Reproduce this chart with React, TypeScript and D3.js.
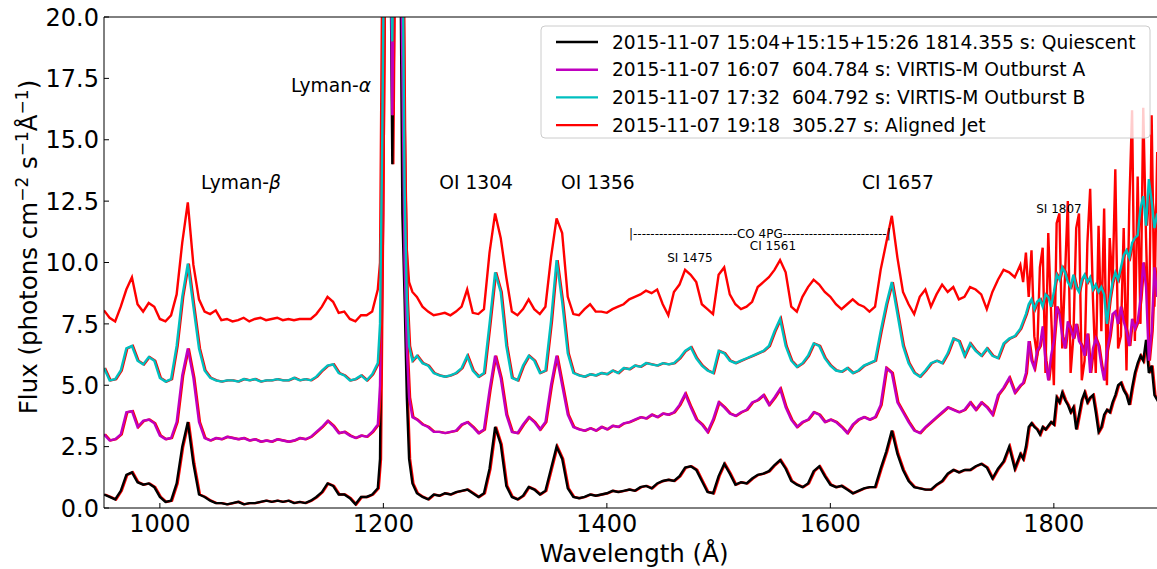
import React from 'react';
import * as d3 from 'd3';

const wavelengths: number[] = [
  950, 955, 960, 965, 970, 975, 980, 985, 990, 995,
  1000, 1005, 1010, 1015, 1020, 1025, 1030, 1035, 1040, 1045,
  1050, 1055, 1060, 1065, 1070, 1075, 1080, 1085, 1090, 1095,
  1100, 1105, 1110, 1115, 1120, 1125, 1130, 1135, 1140, 1145,
  1150, 1155, 1160, 1165, 1170, 1175, 1180, 1185, 1190, 1195,
  1197, 1199, 1202, 1205, 1208, 1211, 1214, 1217, 1219, 1221, 1223, 1226,
  1230, 1235, 1240, 1245, 1250, 1255, 1260, 1265, 1270, 1275,
  1280, 1285, 1290, 1295, 1300, 1305, 1310, 1315, 1320, 1325,
  1330, 1335, 1340, 1345, 1350, 1355, 1360, 1365, 1370, 1375,
  1380, 1385, 1390, 1395, 1400, 1405, 1410, 1415, 1420, 1425,
  1430, 1435, 1440, 1445, 1450, 1455, 1460, 1465, 1470, 1475,
  1480, 1485, 1490, 1495, 1500, 1505, 1510, 1515, 1520, 1525,
  1530, 1535, 1540, 1545, 1550, 1555, 1560, 1565, 1570, 1575,
  1580, 1585, 1590, 1595, 1600, 1605, 1610, 1615, 1620, 1625,
  1630, 1635, 1640, 1645, 1650, 1655, 1660, 1665, 1670, 1675,
  1680, 1685, 1690, 1695, 1700, 1705, 1710, 1715, 1720, 1725,
  1730, 1735, 1740, 1745, 1750, 1755, 1760, 1765, 1770,
  1772.5, 1775, 1777.5, 1780, 1782.5, 1785, 1787.5, 1790, 1792.5, 1795,
  1797.5, 1800, 1802.5, 1805, 1807.5, 1810, 1812.5, 1815, 1817.5, 1820,
  1822.5, 1825, 1827.5, 1830, 1832.5, 1835, 1837.5, 1840, 1842.5, 1845,
  1847.5, 1850, 1852.5, 1855, 1857.5, 1860, 1862.5, 1865, 1867.5, 1870,
  1872.5, 1875, 1877.5, 1880, 1882.5, 1885, 1887.5, 1890, 1892.5, 1895,
  1897.5, 1900,
];

const quiescent: number[] = [
  0.55, 0.45, 0.35, 0.7, 1.35, 1.45, 1.05, 0.95, 1.0, 0.85,
  0.45, 0.25, 0.3, 1.0, 2.5, 3.5, 1.8, 0.55, 0.45, 0.3,
  0.2, 0.2, 0.15, 0.2, 0.25, 0.15, 0.2, 0.2, 0.25, 0.3,
  0.25, 0.3, 0.25, 0.3, 0.2, 0.25, 0.2, 0.3, 0.45, 0.65,
  1.0, 0.9, 0.55, 0.55, 0.4, 0.15, 0.45, 0.45, 0.55, 0.8,
  2.0, 12, 30, 30, 14, 30, 30, 12, 8.5, 4.5, 2.0, 1.0,
  0.6, 0.45, 0.35, 0.55, 0.5, 0.6, 0.55, 0.65, 0.7, 0.75,
  0.6, 0.45, 0.6, 1.6, 3.3, 2.6, 0.9, 0.45, 0.35, 0.5,
  0.85, 0.75, 0.55, 0.7, 1.6, 2.5, 2.0, 0.8, 0.45, 0.4,
  0.45, 0.55, 0.5, 0.55, 0.6, 0.7, 0.65, 0.7, 0.75, 0.7,
  0.85, 0.9, 0.8, 1.0, 1.1, 1.15, 1.1, 1.3, 1.65, 1.7,
  1.55, 1.1, 0.65, 0.6, 1.3, 1.8, 1.4, 0.95, 1.05, 1.0,
  1.2, 1.35, 1.4, 1.5, 1.75, 1.95, 1.6, 1.1, 0.95, 0.85,
  1.0, 1.5, 1.7, 1.3, 0.95, 0.85, 0.9, 0.75, 0.6, 0.7,
  0.8, 0.85, 0.85, 1.6, 2.3, 3.15, 2.2, 1.55, 1.1, 0.85,
  0.8, 0.75, 0.75, 0.95, 1.1, 1.4, 1.55, 1.45, 1.55, 1.55,
  1.7, 1.8, 1.65, 1.2, 1.6, 1.9, 2.5, 1.6, 2.2,
  2.0, 2.5, 3.3, 3.45, 3.3, 3.2, 3.0, 3.3, 3.2, 3.35,
  3.5, 3.4, 4.5, 4.3, 4.7, 4.4, 4.2, 3.9, 4.1, 3.2,
  3.8, 4.4, 4.7, 4.3, 4.5, 4.6, 3.9, 3.1, 3.3, 3.8,
  4.0, 3.9, 4.3, 4.6, 5.0, 5.1, 4.8, 4.6, 4.2, 4.9,
  5.5, 5.9, 6.2, 6.0, 6.85, 5.5, 5.8, 4.6, 4.4, 4.8,
  4.6, 4.5,
];

const outburstA: number[] = [
  3.0, 2.75, 2.8, 3.0, 3.9, 3.95, 3.3, 3.55, 3.6, 3.45,
  2.95, 2.8, 2.85, 3.5, 5.4, 6.5, 5.3, 3.5, 2.85, 2.75,
  2.85, 2.8, 2.9, 2.85, 2.8, 2.85, 2.75, 2.8, 2.7, 2.75,
  2.7, 2.8, 2.75, 2.7, 2.75, 2.85, 2.8, 2.9, 3.1, 3.3,
  3.55, 3.35, 3.05, 3.1, 2.95, 2.85, 2.95, 2.9, 3.1, 3.4,
  5.0, 12, 30, 30, 16, 30, 30, 18, 10, 6.5, 4.5, 3.7,
  3.6, 3.4, 3.3, 3.1, 3.1, 3.05, 3.1, 3.15, 3.4, 3.5,
  3.3, 3.05, 3.2, 4.8, 6.2, 5.3, 3.8, 3.1, 3.05, 3.4,
  3.7, 3.5, 3.2, 3.5, 5.0, 6.2, 5.0, 3.8, 3.3, 3.2,
  3.15, 3.25, 3.15, 3.3, 3.2, 3.35, 3.3, 3.45, 3.5, 3.6,
  3.7, 3.65, 3.8, 3.7, 3.85, 3.8, 3.9, 4.2, 4.65, 4.1,
  3.6, 3.4, 3.1, 3.6, 4.3, 4.1, 3.85, 3.75, 3.9, 4.0,
  4.3, 4.4, 4.6, 4.2, 4.5, 4.85, 4.1, 3.6, 3.3, 3.5,
  3.6, 3.9, 3.8, 3.5, 3.6, 3.5, 3.3, 3.05, 3.4, 3.6,
  3.7, 3.6, 3.7, 4.2, 5.7, 5.5, 4.3, 3.9, 3.5, 3.15,
  3.05, 3.3, 3.5, 3.7, 3.9, 4.1, 4.0, 3.9, 4.0, 4.3,
  4.0, 4.3, 4.1, 3.8, 4.6, 4.9, 5.3, 4.7, 5.0,
  5.1, 5.5, 6.8, 6.0, 5.7, 6.4, 6.6, 7.4, 6.0, 5.2,
  6.2, 6.8, 8.2, 7.9, 7.0, 6.5, 7.6, 7.3, 6.9, 7.5,
  6.8, 6.6, 6.2, 7.1, 5.5, 6.5, 6.9, 6.6, 5.8, 5.2,
  6.4, 7.0, 7.9, 8.0, 7.5, 8.2, 7.6, 7.2, 6.6, 7.7,
  7.3, 7.6, 8.5, 10.0, 9.0, 6.0, 7.2, 9.8, 8.6, 9.2,
  8.8, 9.0,
];

const outburstB: number[] = [
  5.7, 5.2, 5.25, 5.6, 6.5, 6.6, 6.0, 5.85, 6.15, 6.0,
  5.3, 5.15, 5.25, 6.6, 8.6, 9.95, 8.2, 6.5, 5.6, 5.3,
  5.2, 5.15, 5.2, 5.2, 5.15, 5.25, 5.2, 5.25, 5.15, 5.2,
  5.2, 5.25, 5.2, 5.2, 5.3, 5.2, 5.25, 5.2, 5.35, 5.6,
  5.8, 5.85, 5.5, 5.4, 5.2, 5.25, 5.4, 5.2, 5.45, 5.9,
  7.5, 15, 30, 30, 19, 30, 30, 24, 13, 8.5, 6.6, 6.0,
  6.2, 5.9, 5.8, 5.5, 5.4, 5.35, 5.4, 5.5, 5.7, 6.2,
  5.6, 5.35, 5.5, 7.5, 9.6, 8.8, 6.6, 5.3, 5.2, 5.8,
  6.2, 6.0, 5.5, 5.6, 7.6, 10.1, 8.4, 6.3, 5.5, 5.4,
  5.35, 5.45, 5.4, 5.5, 5.45, 5.6, 5.5, 5.7, 5.65, 5.8,
  5.75, 5.9, 5.85, 5.8, 5.9, 5.85, 5.9, 6.1, 6.4, 6.55,
  6.1, 5.8, 5.6, 5.5, 6.4, 6.3, 6.0, 5.9, 6.0, 6.1,
  6.2, 6.3, 6.4, 6.6, 7.2, 7.7, 6.6, 6.0, 5.75, 5.9,
  6.2, 6.7, 6.6, 6.1, 5.8, 5.6, 5.55, 5.7, 5.5, 5.6,
  5.8, 5.9, 6.0, 7.2, 8.3, 9.2, 7.9, 6.6, 5.9, 5.5,
  5.35, 5.6, 5.9, 6.0, 5.9, 6.3, 6.9, 6.8, 6.2, 6.7,
  6.4, 6.2, 6.5, 6.2, 6.1, 6.7, 6.9, 7.0, 7.3,
  7.6, 7.9, 8.3, 8.5, 8.1, 8.4, 8.5, 8.2, 8.7, 8.6,
  8.2, 8.8, 9.5, 9.3, 9.8, 9.6, 9.2, 9.0, 9.5, 9.0,
  8.8, 9.3, 9.5, 9.2, 9.4, 8.9, 9.1, 8.8, 9.0, 8.7,
  7.5, 8.5, 9.2, 9.6, 9.3, 9.8, 10.3, 10.5, 10.2, 10.8,
  11.0, 11.1, 12.2, 12.7, 11.5, 13.4, 12.5, 11.4, 12.0, 11.5,
  11.8, 11.6,
];

const alignedJet: number[] = [
  8.05, 7.75, 7.6, 8.2, 8.9, 9.4, 8.3, 8.0, 8.35, 8.2,
  7.7, 7.6, 7.85, 8.7, 10.8, 12.45, 9.9, 8.5, 8.0, 7.9,
  8.05, 7.65, 7.7, 7.6, 7.65, 7.75, 7.6, 7.7, 7.75, 7.65,
  7.7, 7.75, 7.65, 7.7, 7.65, 7.7, 7.7, 7.7, 7.9, 8.2,
  8.6, 8.4, 7.95, 8.0, 7.7, 7.6, 7.85, 7.85, 8.0, 8.9,
  10, 22, 30, 30, 24, 30, 30, 30, 16, 10.5, 9.2, 8.8,
  8.6, 8.2, 8.0, 7.85, 7.9, 7.95, 7.85, 8.0, 8.2, 8.9,
  7.95, 7.9, 8.1, 10.4, 12.0, 11.0, 9.4, 8.0, 7.85, 8.1,
  8.5, 8.1, 7.9, 8.2, 10.2, 11.8, 11.2, 8.6, 7.9, 7.85,
  8.1, 8.3, 8.0, 8.0, 7.95, 8.1, 8.2, 8.3, 8.5, 8.6,
  8.7, 8.85, 8.75, 8.9, 8.3, 7.85, 8.8, 9.1, 9.7, 9.5,
  9.2, 8.3, 8.1, 7.9, 9.5, 9.8, 8.7, 8.3, 8.1, 8.2,
  8.4, 9.0, 9.2, 9.4, 9.7, 10.1, 9.6, 8.2, 8.0, 8.6,
  9.0, 9.3, 9.1, 8.8, 8.6, 8.3, 8.1, 8.3, 8.5, 8.3,
  8.2, 8.0, 8.2, 9.7, 10.8, 11.9, 10.2, 8.8, 8.3, 7.9,
  8.6, 8.9, 8.2, 8.7, 9.1, 8.8, 9.0, 8.5, 8.6, 9.0,
  8.9, 8.7, 8.1, 8.8, 9.3, 9.7, 9.6, 9.4, 9.9,
  9.2, 10.4, 8.6, 10.5, 7.0, 6.2, 9.8, 10.6, 5.5, 11.2,
  8.0, 5.0, 11.6, 12.0, 6.5, 9.5, 12.5, 5.5, 7.0, 11.4,
  12.0, 5.2, 6.0, 10.8, 13.0, 8.5, 5.5, 11.5, 7.2, 12.2,
  5.0, 11.0, 9.0, 13.8, 6.5, 7.0, 11.4, 5.6, 12.3, 16.2,
  6.8, 13.5, 7.5, 16.3, 11.0, 6.5, 16.0, 8.2, 14.5, 9.0,
  13.2, 10.0,
];

const xTicks = [1000, 1200, 1400, 1600, 1800];
const yTicks = [0, 2.5, 5, 7.5, 10, 12.5, 15, 17.5, 20];

const seriesLabels = [
  '2015-11-07 15:04+15:15+15:26 1814.355 s: Quiescent',
  '2015-11-07 16:07  604.784 s: VIRTIS-M Outburst A',
  '2015-11-07 17:32  604.792 s: VIRTIS-M Outburst B',
  '2015-11-07 19:18  305.27 s: Aligned Jet',
];
const seriesColors = ['#000000', '#bf00bf', '#00bfbf', '#ff0000'];

// label anchor wavelengths (where each text is centred)
const bigLabelText = ['OI 1304', 'OI 1356', 'CI 1657'];
const bigLabelAt = [1283, 1392, 1660.5];

const FONT = 'DejaVu Sans, sans-serif';

export default function App() {
  const W = 1157;
  const H = 569;
  const left = 104;
  const top = 17;
  const bottom = 508;
  const right = 1165.6;
  const x = d3.scaleLinear().domain([950, 1900]).range([left, right]);
  const y = d3.scaleLinear().domain([0, 20]).range([bottom, top]);
  const lineGen = d3
    .line<number>()
    .x((_, i) => x(wavelengths[i]))
    .y((d) => y(d));

  const dash = '-'.repeat(24);

  return (
    <svg
      width={W}
      height={H}
      style={{ position: 'absolute', left: 0, top: 0, background: '#fff' }}
      fontFamily={FONT}
    >
      <defs>
        <clipPath id="plotclip">
          <rect x={left} y={top} width={right - left} height={bottom - top} />
        </clipPath>
      </defs>
      <rect x={0} y={0} width={W} height={H} fill="#fff" />
      <g clipPath="url(#plotclip)">
        <path d={lineGen(alignedJet) ?? ''} fill="none" stroke="#ff0000" strokeWidth={2.4} />
        {[quiescent, outburstA, outburstB].map((s, i) => (
          <g key={i}>
            <path d={lineGen(s) ?? ''} fill="none" stroke="#ff0000" strokeWidth={2.4} transform="translate(1,0)" />
            <path d={lineGen(s) ?? ''} fill="none" stroke={seriesColors[i]} strokeWidth={2.4} />
          </g>
        ))}
      </g>

      <line x1={left} x2={left} y1={top} y2={bottom} stroke="#000" strokeWidth={1} />
      <line x1={left} x2={W} y1={bottom} y2={bottom} stroke="#000" strokeWidth={1} />
      <line x1={left} x2={W} y1={top} y2={top} stroke="#000" strokeWidth={1} />

      {xTicks.map((t) => (
        <g key={t}>
          <line x1={x(t)} x2={x(t)} y1={bottom} y2={bottom - 5} stroke="#000" strokeWidth={1} />
          <text x={x(t)} y={532} textAnchor="middle" fontSize={24} fill="#000">
            {t}
          </text>
        </g>
      ))}
      {yTicks.map((t) => (
        <g key={t}>
          <line x1={left} x2={left + 5} y1={y(t)} y2={y(t)} stroke="#000" strokeWidth={1} />
          <text x={99} y={y(t)} dy="0.36em" textAnchor="end" fontSize={24} fill="#000">
            {t.toFixed(1)}
          </text>
        </g>
      ))}

      <text x={634} y={562} textAnchor="middle" fontSize={24.5} fill="#000">
        Wavelength (Å)
      </text>
      <text transform="translate(37,247) rotate(-90)" textAnchor="middle" fontSize={24.5} fill="#000">
        Flux (photons cm
        <tspan dy={-9} fontSize={17}>−2</tspan>
        <tspan dy={9}> s</tspan>
        <tspan dy={-9} fontSize={17}>−1</tspan>
        <tspan dy={9}>Å</tspan>
        <tspan dy={-9} fontSize={17}>−1</tspan>
        <tspan dy={9}>)</tspan>
      </text>

      <text x={331} y={92} textAnchor="middle" fontSize={18.67} fill="#000">
        Lyman-<tspan fontStyle="italic">α</tspan>
      </text>
      <text x={241} y={189} textAnchor="middle" fontSize={18.67} fill="#000">
        Lyman-<tspan fontStyle="italic">β</tspan>
      </text>
      {bigLabelText.map((t, i) => (
        <text key={t} x={x(bigLabelAt[i])} y={189} textAnchor="middle" fontSize={18.67} fill="#000">
          {t}
        </text>
      ))}
      <text x={629} y={238} fontSize={12} fill="#000" style={{ whiteSpace: 'pre' }}>
        {'|' + dash + 'CO 4PG' + dash + '|'}
      </text>
      <text x={690} y={262} textAnchor="middle" fontSize={12} fill="#000">SI 1475</text>
      <text x={773} y={250} textAnchor="middle" fontSize={12} fill="#000">CI 1561</text>
      <text x={1059} y={213} textAnchor="middle" fontSize={12} fill="#000">SI 1807</text>

      <rect x={541} y={26} width={609} height={112} rx={4} fill="#fff" fillOpacity={0.8} stroke="#cccccc" strokeWidth={1} />
      {seriesLabels.map((lab, i) => {
        const ly = 42 + i * 27.7;
        return (
          <g key={lab}>
            <line x1={556} x2={598} y1={ly} y2={ly} stroke={seriesColors[i]} strokeWidth={2.4} />
            <text x={612} y={ly + 6.7} fontSize={18.67} fill="#000" style={{ whiteSpace: 'pre' }}>
              {lab}
            </text>
          </g>
        );
      })}
    </svg>
  );
}
